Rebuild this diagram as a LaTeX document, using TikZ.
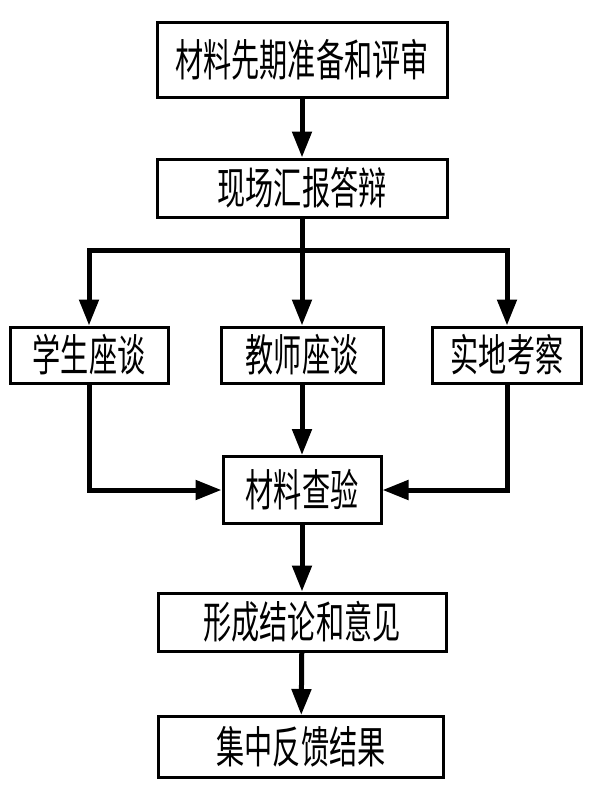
\documentclass[tikz,border=0pt]{standalone}
\usepackage{fontspec}
\usepackage{graphicx}
\newfontfamily\cjk{Noto Sans CJK SC}
\usetikzlibrary{arrows.meta}
\newcommand{\ctext}[1]{\scalebox{0.64}[1]{\cjk #1}}
\begin{document}
\begin{tikzpicture}[x=1pt,y=-1pt,
  box/.style={draw=black,line width=3pt,fill=white,inner sep=0pt,
    font=\fontsize{44}{50}\selectfont,minimum height=#1},
  box/.default=60pt,
  conn/.style={line width=5pt,-{Triangle[length=26pt,width=19pt]}},
  plain/.style={line width=5pt}]
\useasboundingbox (0,0) rectangle (600,800);
\node[box=74pt,minimum width=290pt] (b1) at (302,60) {\ctext{材料先期准备和评审}};
\node[box=58pt,minimum width=290pt] (b2) at (302,188) {\ctext{现场汇报答辩}};
\node[box=56pt,minimum width=158pt] (sl) at (89,355) {\ctext{学生座谈}};
\node[box=56pt,minimum width=162pt] (sm) at (302,355) {\ctext{教师座谈}};
\node[box=56pt,minimum width=149pt] (sr) at (507,355) {\ctext{实地考察}};
\node[box=67pt,minimum width=158pt] (cv) at (302,490) {\ctext{材料查验}};
\node[box=58pt,minimum width=288pt] (jl2) at (302,622) {\ctext{形成结论和意见}};
\node[box=61pt,minimum width=285pt] (fk) at (301,747) {\ctext{集中反馈结果}};
\coordinate (jt) at (302,250);
\draw[conn] (b1) -- (b2);
\draw[plain] (b2.south) -- (jt);
\draw[conn] (jt) -| (sl.north);
\draw[conn] (jt) -| (sr.north);
\draw[conn] (b2) -- (sm);
\draw[conn] (sm) -- (cv);
\draw[conn] (sl.south) |- (cv.west);
\draw[conn] (sr.south) |- (cv.east);
\draw[conn] (cv) -- (jl2);
\draw[conn] (jl2) -- (fk);
\end{tikzpicture}
\end{document}
